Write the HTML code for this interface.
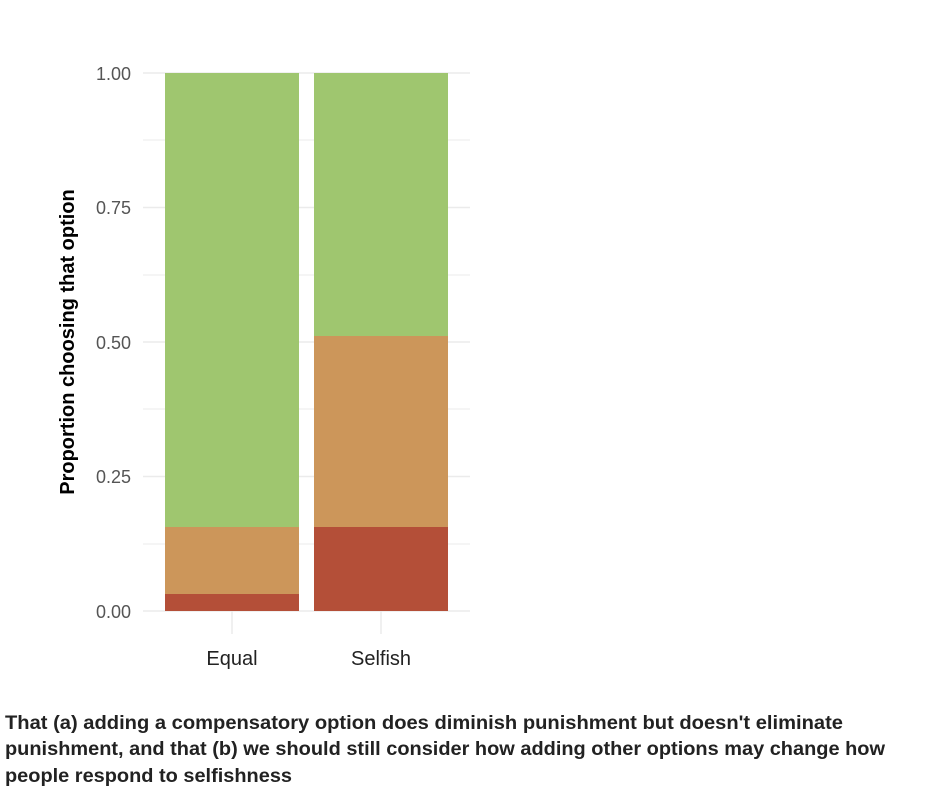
<!DOCTYPE html>
<html><head><meta charset="utf-8"><style>
body{margin:0;background:#fff;width:926px;height:798px;overflow:hidden}
</style></head><body>
<svg width="926" height="798" xmlns="http://www.w3.org/2000/svg" font-family="Liberation Sans, sans-serif">
<g stroke="#ebebeb" stroke-width="1">
<line x1="143" x2="470" y1="140" y2="140"/><line x1="143" x2="470" y1="275" y2="275"/>
<line x1="143" x2="470" y1="409" y2="409"/><line x1="143" x2="470" y1="544" y2="544"/>
<line x1="143" x2="470" y1="73" y2="73" stroke-width="1.5"/><line x1="143" x2="470" y1="207.5" y2="207.5" stroke-width="1.5"/>
<line x1="143" x2="470" y1="342" y2="342" stroke-width="1.5"/><line x1="143" x2="470" y1="476.5" y2="476.5" stroke-width="1.5"/>
<line x1="143" x2="470" y1="611" y2="611" stroke-width="1.5"/>
<line x1="232" x2="232" y1="73" y2="634" stroke-width="1.5"/><line x1="381" x2="381" y1="73" y2="634" stroke-width="1.5"/>
</g>
<rect x="165" y="73" width="134" height="455" fill="#9fc66f"/>
<rect x="165" y="527" width="134" height="68" fill="#cc965a"/>
<rect x="165" y="594" width="134" height="17" fill="#b44f38"/>
<rect x="314" y="73" width="134" height="264" fill="#9fc66f"/>
<rect x="314" y="336" width="134" height="192" fill="#cc965a"/>
<rect x="314" y="527" width="134" height="84" fill="#b44f38"/>
<g fill="#555" font-size="18" text-anchor="end">
<text x="131" y="80">1.00</text><text x="131" y="214">0.75</text><text x="131" y="349">0.50</text>
<text x="131" y="483">0.25</text><text x="131" y="618">0.00</text>
</g>
<g fill="#222" font-size="20" text-anchor="middle">
<text x="232" y="665">Equal</text><text x="381" y="665">Selfish</text>
</g>
<text transform="translate(74,342) rotate(-90)" text-anchor="middle" font-size="20" font-weight="bold" fill="#000">Proportion choosing that option</text>
<g font-size="19" font-weight="bold" fill="#222">
<text x="5" y="729" textLength="838" lengthAdjust="spacingAndGlyphs">That (a) adding a compensatory option does diminish punishment but doesn't eliminate</text>
<text x="5" y="755" textLength="880" lengthAdjust="spacingAndGlyphs">punishment, and that (b) we should still consider how adding other options may change how</text>
<text x="5" y="782" textLength="287" lengthAdjust="spacingAndGlyphs">people respond to selfishness</text>
</g>
</svg>
</body></html>
